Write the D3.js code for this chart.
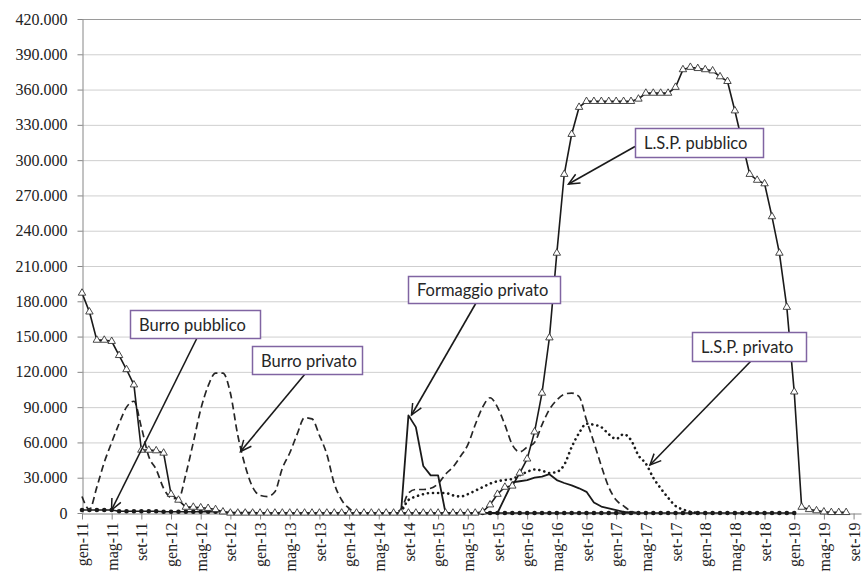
<!DOCTYPE html>
<html>
<head>
<meta charset="utf-8">
<script src="https://cdn.jsdelivr.net/npm/d3@7"></script>
<style>
body { margin: 0; background: #fff; }
svg text.tick-label { font-family: "Liberation Serif", "Times New Roman", serif; font-size: 16px; }
.callout text { font-family: Lato, "Open Sans", sans-serif; font-size: 16.5px; fill: #262626; }
</style>
</head>
<body>
<script>
// categories
var monthNames = ["gen","feb","mar","apr","mag","giu","lug","ago","set","ott","nov","dic"];
var months = d3.range(106).map(function(i){ return monthNames[i % 12] + "-" + (11 + Math.floor(i / 12)); });

// values in thousands of tonnes, one row per year
var lspPubblicoStart = "gen-11";
var lspPubblico = [
	187,171,147,147,146,134,122,109,53.5,53.5,53,51,
	16,11,5,5,4.5,4,3,1,0,0,0,0,
	0,0,0,0,0,0,0,0,0,0,0,0,
	0,0,0,0,0,0,0,0,0,0,0,0,
	0,0,0,0,0,0,1,7,16,22,23,34,
	46,69,102,149,221,288,322,345,350,350,350,350,
	350,350,350,352,357,357,357,357,362,377,379,378,
	377,376,371,367,342,315,288,283,280,252,221,175,
	103,5,3,2,1,0.5,0.5,0.5
];

var burroPubblicoStart = "gen-11";
var burroPubblico = [
	2.5,2.5,2.5,2.5,2.5,1.5,1.5,1.5,1.5,1.5,1.5,1,
	1,1,1,1,1,1,1,1,0.5,0.5,0.5,0.5,
	0,0,0,0,0,0,0,0,0,0,0,0,
	0,0,0,0,0,0,0,0,0,0,0,0,
	0,0,0,0,0,0,0,0,0,0,0,0,
	0,0,0,0,0,0,0,0,0,0,0,0,
	0,0,0,0,0,0,0,0,0,0,0,0,
	0,0,0,0,0,0,0,0,0,0,0,0,
	0
];

var burroPrivatoStart = "gen-11";
var burroPrivato = [
	14,3,22,43,60,76,90,95,73,48,37,21,
	13,12,33,60,88,108,119,119,102,66,40,22,
	15,14,18,38,51,67,81,80,66,50,25,11,
	4,0,0,0,0,0,0,3,17,20,20,21,
	25,33,39,48,58,75,90,98,90,75,58,52,
	56,60,75,88,96,101,102,99,79,60,40,22,
	11,6,1.5,0
];

var lspPrivatoStart = "ago-14";
var lspPrivato = [
	0,11,14,16,17,
	17,17,15,14,16,19,22,25,27,28,29,32,
	35,37,36,34,35,41,56,68,76,75,73,67,
	63,67,62,49,42,30,21,13,6,3,1,0
];

var formaggioStart = "ago-14";
var formaggioPrivato = [
	0,83,73,40,32,
	32,0,0,0,0,0,0,0,0,13,26,27,
	28,30,31,33,28,25.5,23.5,21,18,9,5.5,4,
	2.5,1,0.5
];

var yTicks = d3.range(0, 421, 30);
var xTicks = months.filter(function(m, i){ return i % 4 === 0 && i <= 104; });

var calloutLabels = ["Burro pubblico","Burro privato","Formaggio privato","L.S.P. pubblico","L.S.P. privato"];

var width = 864, height = 575;
var plot = {left: 82, right: 861, top: 19, bottom: 513};

var svg = d3.select("body").append("svg")
	.attr("width", width)
	.attr("height", height);

var x = d3.scalePoint().domain(months).range([plot.left, plot.right]);
var y = d3.scaleLinear().domain([0, 420]).range([plot.bottom, plot.top]);

var it = d3.formatLocale({decimal: ",", thousands: ".", grouping: [3], currency: ["€", ""]});
var fmt = it.format(",.0f");

function points(values, start){
	var s = months.indexOf(start);
	return values.map(function(v, k){ return {m: months[s + k], v: v}; });
}

// gridlines
svg.append("g").selectAll("line")
	.data(yTicks.filter(function(t){ return t > 0; }))
	.enter().append("line")
	.attr("x1", plot.left).attr("x2", plot.right)
	.attr("y1", function(d){ return y(d) + 0.5; })
	.attr("y2", function(d){ return y(d) + 0.5; })
	.attr("stroke", function(d){ return d === 420 ? "#9a9a9a" : "#cfcfcf"; })
	.attr("stroke-width", 1);

// axes
var yAxis = svg.append("g")
	.attr("transform", "translate(" + (plot.left + 0.5) + ",0)")
	.call(d3.axisLeft(y).tickValues(yTicks).tickSize(5).tickSizeOuter(0).tickPadding(10)
		.tickFormat(function(d){ return fmt(d * 1000); }));

var xAxis = svg.append("g")
	.attr("transform", "translate(0," + (plot.bottom + 0.5) + ")")
	.call(d3.axisBottom(x).tickValues(xTicks).tickSize(6).tickSizeOuter(0));

xAxis.selectAll("text")
	.attr("transform", "rotate(-90)")
	.attr("x", -9)
	.attr("y", 0)
	.attr("dy", "0.35em")
	.style("text-anchor", "end");

[xAxis, yAxis].forEach(function(g){
	g.attr("font-family", null).attr("font-size", null);
	g.selectAll("text").attr("class", "tick-label").attr("fill", "#222");
	g.selectAll("path, line").attr("stroke", "#868686");
});

var line = d3.line()
	.x(function(d){ return x(d.m); })
	.y(function(d){ return y(d.v); });

var smooth = d3.line()
	.x(function(d){ return x(d.m); })
	.y(function(d){ return y(d.v); })
	.curve(d3.curveMonotoneX);

// Burro pubblico
var bp = points(burroPubblico, burroPubblicoStart);
svg.append("path").datum(bp)
	.attr("d", line).attr("fill", "none")
	.attr("stroke", "#1a1a1a").attr("stroke-width", 1.5);
svg.append("g").selectAll("circle")
	.data(bp).enter().append("circle")
	.attr("cx", function(d){ return x(d.m); })
	.attr("cy", function(d){ return y(d.v); })
	.attr("r", 2.3)
	.attr("fill", "#1a1a1a");

// Burro privato
svg.append("path").datum(points(burroPrivato, burroPrivatoStart))
	.attr("d", smooth).attr("fill", "none")
	.attr("stroke", "#262626").attr("stroke-width", 1.7)
	.attr("stroke-dasharray", "7,4");

// Formaggio privato
svg.append("path").datum(points(formaggioPrivato, formaggioStart))
	.attr("d", line).attr("fill", "none")
	.attr("stroke", "#1a1a1a").attr("stroke-width", 1.8)
	.attr("stroke-linejoin", "round");

// L.S.P. privato
svg.append("path").datum(points(lspPrivato, lspPrivatoStart))
	.attr("d", smooth).attr("fill", "none")
	.attr("stroke", "#1a1a1a").attr("stroke-width", 2.6)
	.attr("stroke-linecap", "round")
	.attr("stroke-dasharray", "0.1,5");

// L.S.P. pubblico
var lp = points(lspPubblico, lspPubblicoStart);
svg.append("path").datum(lp)
	.attr("d", line).attr("fill", "none")
	.attr("stroke", "#1a1a1a").attr("stroke-width", 1.6);
var tri = d3.symbol().type(d3.symbolTriangle).size(24);
svg.append("g").selectAll("path")
	.data(lp).enter().append("path")
	.attr("d", tri)
	.attr("transform", function(d){ return "translate(" + x(d.m) + "," + y(d.v) + ")"; })
	.attr("fill", "#fff")
	.attr("stroke", "#333")
	.attr("stroke-width", 0.9);

// callouts
svg.append("defs").append("marker")
	.attr("id", "arrow")
	.attr("viewBox", "-12 -6 14 12")
	.attr("refX", 0).attr("refY", 0)
	.attr("markerWidth", 14).attr("markerHeight", 12)
	.attr("markerUnits", "userSpaceOnUse")
	.attr("orient", "auto")
	.append("path")
	.attr("d", "M-11,-5L0,0L-11,5")
	.attr("fill", "none")
	.attr("stroke", "#1a1a1a")
	.attr("stroke-width", 1.5);

var calloutBoxes = [
	{x: 130, y: 310, w: 130, h: 28, from: [197, 338], to: [111.5, 510]},
	{x: 252, y: 346, w: 110, h: 28, from: [305, 374], to: [240.5, 451.5]},
	{x: 408, y: 276, w: 152, h: 27, from: [476, 303], to: [411.5, 415]},
	{x: 635, y: 128, w: 128, h: 29, from: [635, 146.5], to: [568.5, 184]},
	{x: 692, y: 332, w: 114, h: 29, from: [751, 361], to: [650, 465]}
];

var co = svg.append("g").attr("class", "callout")
	.selectAll("g").data(calloutBoxes).enter().append("g");

co.append("line")
	.attr("x1", function(d){ return d.from[0]; })
	.attr("y1", function(d){ return d.from[1]; })
	.attr("x2", function(d){ return d.to[0]; })
	.attr("y2", function(d){ return d.to[1]; })
	.attr("stroke", "#1a1a1a").attr("stroke-width", 1.6)
	.attr("marker-end", "url(#arrow)");

co.append("rect")
	.attr("x", function(d){ return d.x + 0.5; })
	.attr("y", function(d){ return d.y + 0.5; })
	.attr("width", function(d){ return d.w; })
	.attr("height", function(d){ return d.h; })
	.attr("fill", "#fff")
	.attr("stroke", "#8064a2")
	.attr("stroke-width", 1.5);

co.append("text")
	.attr("x", function(d){ return d.x + 9; })
	.attr("y", function(d){ return d.y + d.h / 2 + 1; })
	.attr("dy", "0.35em")
	.text(function(d, i){ return calloutLabels[i]; });
</script>
</body>
</html>
